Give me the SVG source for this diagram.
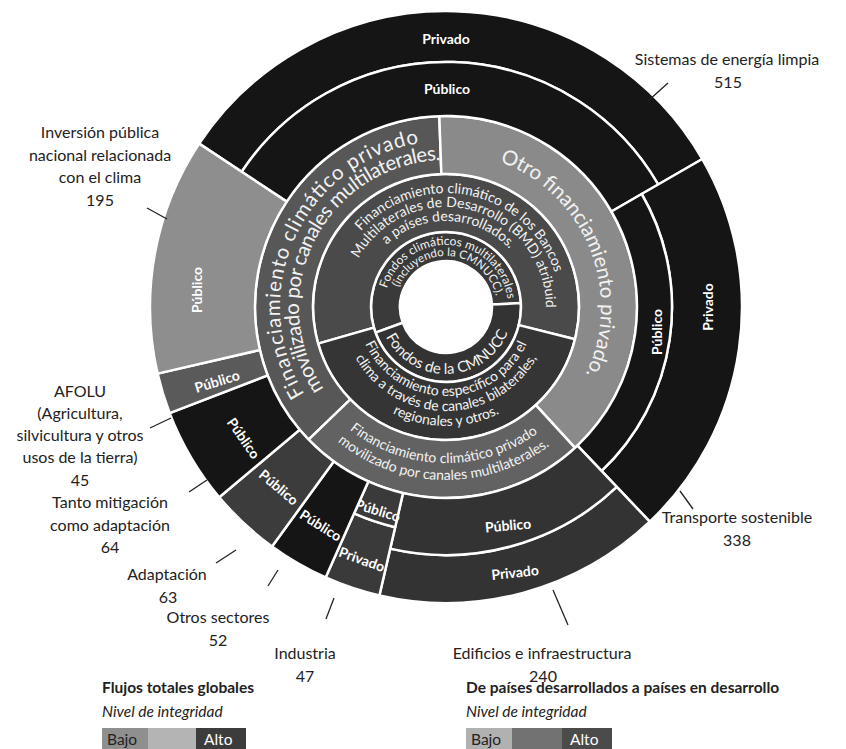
<svg xmlns="http://www.w3.org/2000/svg" width="846" height="749" viewBox="0 0 846 749">
<style>
.s{stroke:#fff;stroke-width:2.5;stroke-linejoin:round}
.lbl{font-family:Lato,'Open Sans',sans-serif;font-size:16px;fill:#222;text-anchor:middle}
.seg{font-family:Lato,'Open Sans',sans-serif;font-weight:bold;font-size:14px;fill:#fff;text-anchor:middle;dominant-baseline:central}
.rt{font-family:Lato,'Open Sans',sans-serif;fill:#f2f2f2}
.lead{stroke:#222;stroke-width:1.3;fill:none}
.leg{font-family:Lato,'Open Sans',sans-serif;font-size:15.5px;fill:#222}
</style>
<defs>
<path id="pL1" d="M329.65,425.41 A166,166 0 0 1 459.03,141.51"/>
<path id="pL2" d="M338.49,407.25 A147,147 0 0 1 463.92,161.10"/>
<path id="pO" d="M440.59,152.09 A155,155 0 0 1 549.71,422.18"/>
<path id="pB1" d="M324.77,405.17 A156,156 0 0 0 563.73,409.35"/>
<path id="pB2" d="M311.56,415.87 A173,173 0 0 0 576.56,420.51"/>
<path id="pM1" d="M344.43,255.24 A114,114 0 0 1 559.84,301.04"/>
<path id="pM2" d="M361.2,254.01 A100,100 0 0 1 545.94,310.49"/>
<path id="pM3" d="M363.76,281.85 A86,86 0 0 1 529.80,287.65"/>
<path id="pE1" d="M362.37,337.44 A89,89 0 0 0 529.63,337.44"/>
<path id="pE2" d="M348.27,342.57 A104,104 0 0 0 543.73,342.57"/>
<path id="pE3" d="M334.18,347.70 A119,119 0 0 0 557.82,347.70"/>
<path id="pF1" d="M384.94,296.23 A62,62 0 0 1 508,307"/>
<path id="pF2" d="M396.74,293.80 A51,51 0 0 1 496.81,302.55"/>
<path id="pC" d="M383.88,332.10 A67,67 0 0 0 509.72,327.70"/>
</defs>
<rect width="846" height="749" fill="#fff"/>

<g id="ring1-multilaterales">
<path class="s" fill="#3a3a3a" d="M375.52,332.65 A75,75 0 1 1 520.90,303.08 L491.94,304.59 A46,46 0 1 0 402.77,322.73 Z"/>
<text class="rt" font-size="12"><textPath href="#pF1" startOffset="50%" text-anchor="middle">Fondos climáticos multilaterales</textPath></text>
<text class="rt" font-size="11.5"><textPath href="#pF2" startOffset="50%" text-anchor="middle">(incluyendo la CMNUCC).</textPath></text>
</g>
<g id="ring1-cmnucc">
<path class="s" fill="#333" d="M520.90,303.08 A75,75 0 0 1 375.52,332.65 L402.77,322.73 A46,46 0 0 0 491.94,304.59 Z"/>
<text class="rt" font-size="15"><textPath href="#pC" startOffset="50%" text-anchor="middle">Fondos de la CMNUCC</textPath></text>
</g>
<g id="ring2-bmd">
<path class="s" fill="#4a4a4a" d="M318.15,343.65 A133,133 0 1 1 575.05,339.17 L518.77,325.14 A75,75 0 1 0 373.90,327.67 Z"/>
<text class="rt" font-size="14"><textPath href="#pM1" startOffset="50%" text-anchor="middle">Financiamiento climático de los Bancos</textPath></text>
<text class="rt" font-size="14"><textPath href="#pM2" startOffset="50%" text-anchor="middle">Multilaterales de Desarrollo (BMD) atribuido</textPath></text>
<text class="rt" font-size="14"><textPath href="#pM3" startOffset="50%" text-anchor="middle">a países desarrollados.</textPath></text>
</g>
<g id="ring2-especifico">
<path class="s" fill="#353535" d="M575.05,339.17 A133,133 0 0 1 318.15,343.65 L373.90,327.67 A75,75 0 0 0 518.77,325.14 Z"/>
<text class="rt" font-size="14"><textPath href="#pE1" startOffset="50%" text-anchor="middle">Financiamiento específico para el</textPath></text>
<text class="rt" font-size="14"><textPath href="#pE2" startOffset="50%" text-anchor="middle">clima a través de canales bilaterales,</textPath></text>
<text class="rt" font-size="14"><textPath href="#pE3" startOffset="50%" text-anchor="middle">regionales y otros.</textPath></text>
</g>
<g id="ring3-movilizado-izq">
<path class="s" fill="#575757" d="M308.61,439.69 A191,191 0 0 1 439.33,116.11 L441.36,174.08 A133,133 0 0 0 350.33,399.40 Z"/>
<text class="rt" font-size="20.5"><textPath href="#pL1" startOffset="50%" text-anchor="middle" textLength="325" lengthAdjust="spacing">Financiamiento climático privado</textPath></text>
<text class="rt" font-size="20.5"><textPath href="#pL2" startOffset="50%" text-anchor="middle" textLength="312" lengthAdjust="spacing">movilizado por canales multilaterales.</textPath></text>
</g>
<g id="ring3-otro">
<path class="s" fill="#8a8a8a" d="M439.33,116.11 A191,191 0 0 1 575.04,447.82 L535.85,405.06 A133,133 0 0 0 441.36,174.08 Z"/>
<text class="rt" font-size="20.5"><textPath href="#pO" startOffset="50%" text-anchor="middle">Otro financiamiento privado.</textPath></text>
</g>
<g id="ring3-movilizado-inf">
<path class="s" fill="#626262" d="M575.04,447.82 A191,191 0 0 1 308.61,439.69 L350.33,399.40 A133,133 0 0 0 535.85,405.06 Z"/>
<text class="rt" font-size="14"><textPath href="#pB1" startOffset="50%" text-anchor="middle">Financiamiento climático privado</textPath></text>
<text class="rt" font-size="14"><textPath href="#pB2" startOffset="50%" text-anchor="middle">movilizado por canales multilaterales.</textPath></text>
</g>

<g id="sistemas">
<path class="s" fill="#151515" d="M199.17,143.64 A296,296 0 0 1 702.34,159 L658.17,184.5 A245,245 0 0 0 241.69,171.78 Z"/>
<path class="s" fill="#151515" d="M241.69,171.78 A245,245 0 0 1 658.17,184.5 L611.41,211.5 A191,191 0 0 0 286.73,201.59 Z"/>
<text class="seg" x="446" y="38">Privado</text>
<text class="seg" x="447" y="88">Público</text>
<text class="lbl" x="727" y="65">Sistemas de energía limpia</text>
<text class="lbl" x="728" y="88">515</text>
</g>
<g id="transporte">
<path class="s" fill="#151515" d="M702.34,159 A296,296 0 0 1 649.77,521.72 L601.58,470.94 A226,226 0 0 0 641.72,194 Z"/>
<path class="s" fill="#151515" d="M641.72,194 A226,226 0 0 1 601.58,470.94 L577.48,445.55 A191,191 0 0 0 611.41,211.5 Z"/>
<text class="seg" transform="translate(707,307) rotate(-90)">Privado</text>
<text class="seg" transform="translate(656,332) rotate(-90)">Público</text>
<text class="lbl" x="737" y="523">Transporte sostenible</text>
<text class="lbl" x="737" y="546">338</text>
</g>
<g id="edificios">
<path class="s" fill="#333" d="M649.77,521.72 A296,296 0 0 1 379.4,595.42 L390.2,548.65 A248,248 0 0 0 616.72,486.90 Z"/>
<path class="s" fill="#333" d="M616.72,486.90 A248,248 0 0 1 390.2,548.65 L403.02,493.11 A191,191 0 0 0 577.48,445.55 Z"/>
<text class="seg" font-size="15" transform="translate(508,525) rotate(-5)">Público</text>
<text class="seg" font-size="15" transform="translate(515,572) rotate(-6)">Privado</text>
<text class="lbl" x="542" y="659">Edificios e infraestructura</text>
<text class="lbl" x="543" y="682">240</text>
</g>
<g id="industria">
<path class="s" fill="#3a3a3a" d="M379.4,595.42 A296,296 0 0 1 325.62,577.40 L354.09,513.45 A226,226 0 0 0 395.15,527.21 Z"/>
<path class="s" fill="#3a3a3a" d="M395.15,527.21 A226,226 0 0 1 354.09,513.45 L368.32,481.48 A191,191 0 0 0 403.02,493.11 Z"/>
<text class="seg" font-size="9.5" transform="translate(378,510) rotate(17)">Público</text>
<text class="seg" font-size="12" transform="translate(362,559) rotate(20)">Privado</text>
<text class="lbl" x="305" y="659">Industria</text>
<text class="lbl" x="305" y="682">47</text>
</g>
<g id="otros">
<path class="s" fill="#151515" d="M325.62,577.40 A296,296 0 0 1 272.01,546.46 L333.73,461.52 A191,191 0 0 0 368.32,481.48 Z"/>
<text class="seg" font-size="13" transform="translate(321,525) rotate(32)">Público</text>
<text class="lbl" x="218" y="623">Otros sectores</text>
<text class="lbl" x="218" y="646">52</text>
</g>
<g id="adaptacion">
<path class="s" fill="#3c3c3c" d="M272.01,546.46 A296,296 0 0 1 219.26,497.27 L299.69,429.77 A191,191 0 0 0 333.73,461.52 Z"/>
<text class="seg" font-size="13" transform="translate(279,487) rotate(40)">Público</text>
<text class="lbl" x="167" y="580">Adaptación</text>
<text class="lbl" x="168" y="603">63</text>
</g>
<g id="tanto">
<path class="s" fill="#151515" d="M219.26,497.27 A296,296 0 0 1 169.65,413.09 L267.68,375.45 A191,191 0 0 0 299.69,429.77 Z"/>
<text class="seg" font-size="13" transform="translate(244,438) rotate(55)">Público</text>
<text class="lbl" x="110" y="508">Tanto mitigación</text>
<text class="lbl" x="110" y="531">como adaptación</text>
<text class="lbl" x="110" y="553">64</text>
</g>
<g id="afolu">
<path class="s" fill="#5a5a5a" d="M169.65,413.09 A296,296 0 0 1 157.58,373.6 L259.89,349.98 A191,191 0 0 0 267.68,375.45 Z"/>
<text class="seg" font-size="13" transform="translate(217,381) rotate(-17)">Público</text>
<text class="lbl" x="80" y="397">AFOLU</text>
<text class="lbl" x="80" y="419">(Agricultura,</text>
<text class="lbl" x="80" y="441">silvicultura y otros</text>
<text class="lbl" x="80" y="463">usos de la tierra)</text>
<text class="lbl" x="80" y="486">45</text>
</g>
<g id="inversion">
<path class="s" fill="#8e8e8e" d="M157.58,373.6 A296,296 0 0 1 199.17,143.64 L286.73,201.59 A191,191 0 0 0 259.89,349.98 Z"/>
<text class="seg" font-size="14" transform="translate(196,290) rotate(-90)">Público</text>
<text class="lbl" x="100" y="138">Inversión pública</text>
<text class="lbl" x="100" y="161">nacional relacionada</text>
<text class="lbl" x="100" y="183">con el clima</text>
<text class="lbl" x="100" y="206">195</text>
</g>

<g id="connectors">
<line class="lead" x1="648" y1="101" x2="668" y2="83"/>
<line class="lead" x1="147" y1="208" x2="167" y2="219"/>
<line class="lead" x1="150" y1="428" x2="171" y2="418"/>
<line class="lead" x1="189" y1="492" x2="207" y2="480"/>
<line class="lead" x1="216" y1="563" x2="236" y2="550"/>
<line class="lead" x1="268" y1="586" x2="278" y2="570"/>
<line class="lead" x1="326" y1="619" x2="334" y2="598"/>
<line class="lead" x1="553" y1="590" x2="568" y2="625"/>
<line class="lead" x1="680" y1="491" x2="693" y2="509"/>
</g>

<g id="legend-global">
<text class="leg" x="102" y="693" font-weight="bold">Flujos totales globales</text>
<text class="leg" x="102" y="717" font-style="italic">Nivel de integridad</text>
<rect x="102" y="728" width="46" height="21" fill="#8f8f8f"/>
<rect x="148" y="728" width="48" height="21" fill="#b4b4b4"/>
<rect x="196" y="728" width="50" height="21" fill="#3c3c3c"/>
<text class="leg" x="107" y="745">Bajo</text>
<text class="leg" x="204" y="745" style="fill:#fff">Alto</text>
</g>
<g id="legend-desarrollo">
<text class="leg" x="466" y="693" font-weight="bold">De países desarrollados a países en desarrollo</text>
<text class="leg" x="466" y="717" font-style="italic">Nivel de integridad</text>
<rect x="466" y="728" width="46" height="21" fill="#b1b1b1"/>
<rect x="512" y="728" width="50" height="21" fill="#727272"/>
<rect x="562" y="728" width="50" height="21" fill="#4b4b4b"/>
<text class="leg" x="471" y="745">Bajo</text>
<text class="leg" x="570" y="745" style="fill:#fff">Alto</text>
</g>
</svg>
